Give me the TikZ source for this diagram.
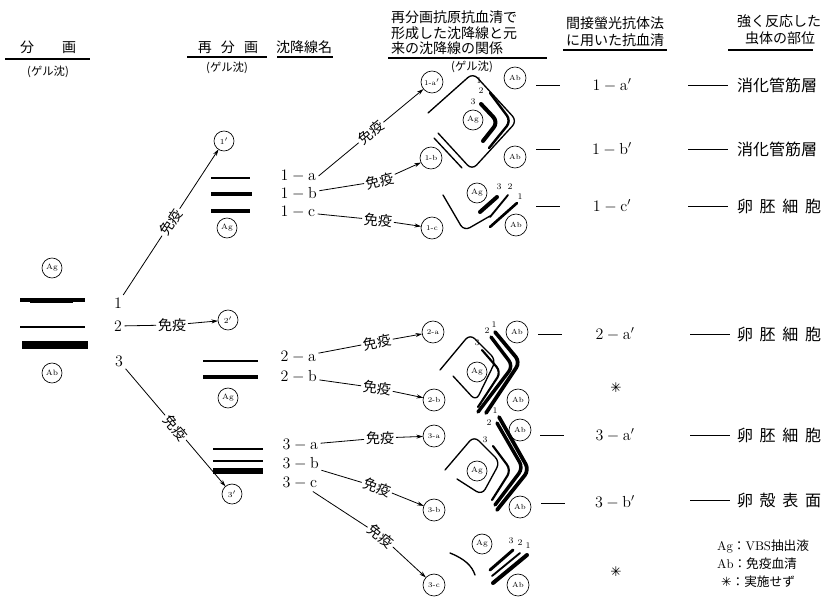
\documentclass[tikz,border=0pt]{standalone}
\usepackage{fontspec}
\newfontfamily\jp{Noto Sans CJK JP}
\newfontfamily\symfont{DejaVu Sans}
\usetikzlibrary{arrows.meta}
\begin{document}
\begin{tikzpicture}[x=0.75pt,y=-0.75pt,
  every node/.style={inner sep=0pt,outer sep=0pt},
  hdr/.style={font=\jp\fontsize{10.5}{12}\selectfont},
  hdrwide/.style={font=\jp\fontsize{10.5}{12}\selectfont},
  gelnote/.style={font=\jp\fontsize{8.5}{10}\selectfont},
  rule/.style={line width=0.8pt},
  ring/.style={draw,circle,line width=0.5pt,minimum size=15pt,font=\fontsize{5.8}{6}\selectfont},
  bigring/.style={ring,minimum size=16.5pt,font=\fontsize{5.5}{6}\selectfont},
  code/.style={font=\fontsize{12}{14}\selectfont,inner sep=2pt},
  imm/.style={font=\jp\fontsize{10.5}{12}\selectfont,fill=white,inner sep=1.5pt},
  link/.style={line width=0.6pt},
  arr/.style={link,-{Stealth[length=5pt,width=3pt]}},
  band/.style={line cap=butt},
  prec/.style={line cap=round,line join=round,rounded corners=5pt},
  num/.style={font=\fontsize{6.5}{7}\selectfont},
  site/.style={font=\jp\fontsize{12}{14}\selectfont,anchor=west},
  note/.style={font=\fontsize{9.5}{11}\selectfont,anchor=west},
  star/.style={font=\symfont\fontsize{10}{12}\selectfont}
]
\fill[white] (0,0) rectangle (830,596);
\useasboundingbox (0,0) rectangle (830,596);

% ---------- column headings ----------
\node[hdr] (hA) at (48,47) {分\hspace{2em}画};
\draw[rule] (5,59) -- (90,59);
\node[gelnote] (gA) at (48,72) {(ゲル沈)};
\node[hdr] (hB) at (228,47) {再\hspace{0.65em}分\hspace{0.65em}画};
\draw[rule] (187,57) -- (267,57);
\node[gelnote] (gB) at (227,68) {(ゲル沈)};
\node[hdr] (hC) at (304,47) {沈降線名};
\draw[rule] (277,57) -- (333,57);
\node[hdrwide,anchor=west] (hD1) at (391,17) {再分画抗原抗血清で};
\node[hdrwide,anchor=west] (hD2) at (391,33) {形成した沈降線と元};
\node[hdrwide,anchor=west] (hD3) at (391,48) {来の沈降線の関係};
\draw[rule] (388,58) -- (547,58);
\node[gelnote] (gD) at (472,67) {(ゲル沈)};
\node[hdrwide] (hE1) at (615,23) {間接螢光抗体法};
\node[hdrwide] (hE2) at (615,40) {に用いた抗血清};
\draw[rule] (563,50) -- (667,50);
\node[hdr,anchor=west] (hF1) at (737,21) {強く反応した};
\node[hdr,anchor=west] (hF2) at (745,38) {虫体の部位};
\draw[rule] (728,50) -- (813,50);

% ---------- original fractionation ----------
\node[ring] (agL) at (52,268) {Ag};
\draw[band,line width=2.4pt] (20,300) -- (85,300);
\draw[band,line width=1.4pt] (30,302) -- (73,302);
\draw[band,line width=2.1pt] (20,327) -- (85,327);
\draw[band,line width=6pt] (22,345) -- (88,345);
\node[ring] (abL) at (52,373) {Ab};
\node[code] (n1) at (118,303) {1};
\node[code] (n2) at (118,326) {2};
\node[code] (n3) at (119,361) {3};

% ---------- refractionation ----------
\node[ring] (r1) at (224,141) {1$'$};
\node[ring] (r2) at (228,320) {2$'$};
\node[ring] (r3) at (232,494) {3$'$};
\draw[arr] (n1) -- node[imm,sloped] {免疫} (r1);
\node[imm] (i2) at (172,325) {免疫};
\draw[link] (n2) -- (i2);
\draw[arr] (i2) -- (r2);
\draw[arr] (n3) -- node[imm,sloped] {免疫} (r3);

% bands of 1'
\draw[band,line width=1.2pt] (211,178) -- (250,178);
\draw[band,line width=3.4pt] (211,194) -- (252,194);
\draw[band,line width=2.6pt] (211,211) -- (250,211);
\node[ring] (ag1) at (227,228) {Ag};
% bands of 2'
\draw[band,line width=1.2pt] (203,361) -- (258,361);
\draw[band,line width=2.6pt] (203,377) -- (258,377);
\node[ring] (ag2) at (228,398) {Ag};
% bands of 3'
\draw[band,line width=2.2pt] (213,449) -- (263,449);
\draw[band,line width=1.8pt] (213,461) -- (263,461);
\draw[band,line width=3.8pt] (213,471) -- (263,471);

% precipitin line names
\node[code,anchor=west] (l1a) at (278,176) {$1-\mathrm{a}$};
\node[code,anchor=west] (l1b) at (278,194) {$1-\mathrm{b}$};
\node[code,anchor=west] (l1c) at (278,212) {$1-\mathrm{c}$};
\node[code,anchor=west] (l2a) at (278,357) {$2-\mathrm{a}$};
\node[code,anchor=west] (l2b) at (278,377) {$2-\mathrm{b}$};
\node[code,anchor=west] (l3a) at (280,445) {$3-\mathrm{a}$};
\node[code,anchor=west] (l3b) at (280,464) {$3-\mathrm{b}$};
\node[code,anchor=west] (l3c) at (280,483) {$3-\mathrm{c}$};

% ---------- antisera wells ----------
\node[bigring] (c1a) at (432,82) {1-a$'$};
\node[bigring] (c1b) at (431,158) {1-b};
\node[bigring] (c1c) at (432,228) {1-c};
\node[bigring] (c2a) at (433,332) {2-a};
\node[bigring] (c2b) at (434,400) {2-b};
\node[bigring] (c3a) at (434,436) {3-a};
\node[bigring] (c3b) at (434,510) {3-b};
\node[bigring] (c3c) at (434,585) {3-c};

\draw[arr] (l1a.east) -- node[imm,sloped] {免疫} (c1a);
\node[imm,rotate=15] (i1b) at (380,181) {免疫};
\draw[link] (l1b) -- (i1b);  \draw[arr] (i1b) -- (c1b);
\node[imm,rotate=-5] (i1c) at (378,220) {免疫};
\draw[link] (l1c) -- (i1c);  \draw[arr] (i1c) -- (c1c);
\node[imm,rotate=12] (i2a) at (377,342) {免疫};
\draw[link] (l2a) -- (i2a);  \draw[arr] (i2a) -- (c2a);
\node[imm,rotate=-6] (i2b) at (377,388) {免疫};
\draw[link] (l2b) -- (i2b);  \draw[arr] (i2b) -- (c2b);
\node[imm] (i3a) at (380,438) {免疫};
\draw[link] (l3a) -- (i3a);  \draw[arr] (i3a) -- (c3a);
\node[imm,rotate=-20] (i3b) at (377,487) {免疫};
\draw[link] (l3b) -- (i3b);  \draw[arr] (i3b) -- (c3b);
\node[imm,rotate=-38] (i3c) at (381,536) {免疫};
\draw[link] (l3c) -- (i3c);  \draw[arr] (i3c) -- (c3c);

% ---------- gel patterns ----------
% 1-a / 1-b
\node[ring] (agA) at (473,120) {Ag};
\node[bigring] (abA1) at (515,78) {Ab};
\node[bigring] (abA2) at (515,157) {Ab};
\draw[prec,line width=1pt] (428,113) -- (473,73) -- (517,121) -- (472,170) -- (438,133);
\draw[prec,line width=1pt] (434,138) -- (462,168);
\draw[prec,line width=1.8pt] (490,93) -- (511,121) -- (489,148);
\draw[prec,line width=3pt] (481,104) -- (498,122) -- (483,141);
\node[num] at (479,81) {1};
\node[num] at (481,91) {2};
\node[num] at (473,102) {3};
% 1-c
\node[ring] (agB) at (477,193) {Ag};
\node[bigring] (abB) at (516,225) {Ab};
\draw[prec,line width=1pt] (443,195) -- (464,231) -- (490,216);
\draw[line cap=round,line width=3pt] (480,212) -- (497,197);
\draw[line cap=round,line width=1.4pt] (490,217) -- (508,195);
\draw[line cap=round,line width=2pt] (490,227) -- (517,203);
\node[num] at (499,187) {3};
\node[num] at (510,187) {2};
\node[num] at (520,197) {1};
% 2-a / 2-b
\node[ring] (agC) at (477,372) {Ag};
\node[bigring] (abC1) at (517,332) {Ab};
\node[bigring] (abC2) at (518,400) {Ab};
\draw[prec,line width=1pt] (440,370) -- (470,334) -- (496,360) -- (476,401) -- (453,376);
\draw[prec,line width=1.6pt] (482,350) -- (501,372) -- (478,407);
\draw[prec,line width=2.6pt] (491,337) -- (513,366) -- (478,412);
\draw[prec,line width=2.8pt] (495,332) -- (520,362) -- (486,413);
\node[num] at (487,331) {2};
\node[num] at (494,325) {1};
\node[num] at (477,343) {3};
% 3-a / 3-b
\node[ring] (agD) at (477,471) {Ag};
\node[bigring] (abD1) at (520,430) {Ab};
\node[bigring] (abD2) at (520,507) {Ab};
\draw[prec,line width=1pt] (445,470) -- (474,436) -- (500,462) -- (482,495) -- (457,479);
\draw[prec,line width=1.6pt] (493,446) -- (511,470) -- (492,500);
\draw[prec,line width=2.6pt] (497,423) -- (523,468) -- (495,505);
\draw[prec,line width=2.8pt] (499,417) -- (529,470) -- (497,510);
\node[num] at (495,411) {1};
\node[num] at (489,423) {2};
\node[num] at (485,440) {3};
% 3-c
\node[ring] (agE) at (482,544) {Ag};
\node[bigring] (abE) at (518,585) {Ab};
\draw[line width=1pt,line cap=round] (450,553) .. controls (465,559) and (472,566) .. (475,575);
\draw[line cap=round,line width=2.2pt] (490,570) -- (513,550);
\draw[line cap=round,line width=1.4pt] (492,576) -- (520,553);
\draw[line cap=round,line width=3pt] (493,583) -- (527,555);
\node[num] at (511,541) {3};
\node[num] at (520,543) {2};
\node[num] at (528,546) {1};

% ---------- antisera for indirect IF ----------
\draw[link] (536,85) -- (560,85);
\draw[link] (536,149) -- (560,149);
\draw[link] (536,206) -- (560,206);
\draw[link] (538,334) -- (562,334);
\draw[link] (540,435) -- (564,435);
\draw[link] (541,503) -- (565,503);
\node[code] (s1a) at (612,85) {$1-\mathrm{a}'$};
\node[code] (s1b) at (612,149) {$1-\mathrm{b}'$};
\node[code] (s1c) at (612,206) {$1-\mathrm{c}'$};
\node[code] (s2a) at (615,334) {$2-\mathrm{a}'$};
\node[star] (s2b) at (616,388) {✳};
\node[code] (s3a) at (615,435) {$3-\mathrm{a}'$};
\node[code] (s3b) at (615,502) {$3-\mathrm{b}'$};
\node[star] (s3c) at (616,572) {✳};

% ---------- reacting sites ----------
\draw[link] (688,85) -- (728,85);
\node[site] (t1a) at (737,85) {消化管筋層};
\draw[link] (688,149) -- (728,149);
\node[site] (t1b) at (737,149) {消化管筋層};
\draw[link] (688,206) -- (728,206);
\node[site] (t1c) at (737,206) {卵\hspace{5pt}胚\hspace{5pt}細\hspace{5pt}胞};
\draw[link] (690,334) -- (730,334);
\node[site] (t2a) at (737,334) {卵\hspace{5pt}胚\hspace{5pt}細\hspace{5pt}胞};
\draw[link] (690,435) -- (730,435);
\node[site] (t3a) at (737,435) {卵\hspace{5pt}胚\hspace{5pt}細\hspace{5pt}胞};
\draw[link] (690,500) -- (730,500);
\node[site] (t3b) at (737,500) {卵\hspace{5pt}殻\hspace{5pt}表\hspace{5pt}面};

% ---------- legend ----------
\node[note] (k1) at (717,546) {Ag{\jp ：}VBS{\jp 抽出液}};
\node[note] (k2) at (717,564) {Ab{\jp ：免疫血清}};
\node[note] (k3) at (721,582) {{\symfont ✳}{\jp ：実施せず}};
\end{tikzpicture}
\end{document}
